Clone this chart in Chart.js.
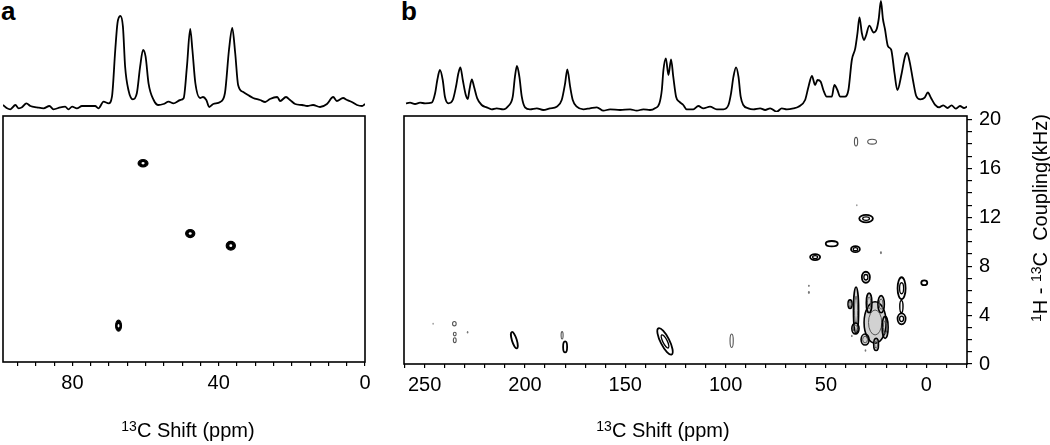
<!DOCTYPE html>
<html>
<head>
<meta charset="utf-8">
<script src="https://cdn.jsdelivr.net/npm/chart.js@4.4.1/dist/chart.umd.min.js"></script>
<style>
  html, body { margin:0; padding:0; background:#fff; }
  body { width:1050px; height:445px; position:relative; overflow:hidden;
         font-family:"Liberation Sans", Arial, Helvetica, sans-serif; color:#000; }
  canvas { position:absolute; }
  .plabel { position:absolute; font-weight:bold; font-size:26px; line-height:26px; }
  .title { position:absolute; font-size:20px; line-height:24px; text-align:center; white-space:nowrap; }
  .title sup { font-size:14px; vertical-align:6px; line-height:0; }
  .ytitle { position:absolute; font-size:20px; line-height:24px; white-space:nowrap;
            transform-origin:center center; }
  .ytitle sup { font-size:14px; vertical-align:6px; line-height:0; }
</style>
</head>
<body>
<div class="plabel" style="left:1px; top:-2px;">a</div>
<div class="plabel" style="left:401px; top:-2px;">b</div>
<canvas id="specA" width="362" height="112" style="left:3px; top:0px;"></canvas>
<canvas id="specB" width="563" height="112" style="left:404px; top:0px;"></canvas>
<canvas id="mapA" width="400" height="340" style="left:0px; top:105px;"></canvas>
<canvas id="mapB" width="650" height="340" style="left:400px; top:105px;"></canvas>
<div class="title" style="left:88px; width:200px; top:418px;"><sup>13</sup>C Shift (ppm)</div>
<div class="title" style="left:563px; width:200px; top:418px;"><sup>13</sup>C Shift (ppm)</div>
<div class="ytitle" id="yt" style="left:937px; top:207px; width:206px; text-align:center; transform:rotate(-90deg);"><sup>1</sup>H - <sup>13</sup>C&nbsp; Coupling(kHz)</div>
<script>
// ---------- 1D projection, panel a ----------
const aShiftPpm = [99.0,97.9,97.0,95.6,94.7,93.8,92.6,91.5,89.7,87.9,86.3,85.2,83.3,82.0,81.1,80.1,78.8,77.4,75.5,73.8,72.9,71.5,70.1,69.2,68.3,67.7,66.9,66.2,65.6,64.7,63.5,62.4,61.5,60.7,60.0,59.2,57.8,56.5,55.1,53.7,52.4,50.5,49.6,48.7,47.8,47.2,46.4,45.1,44.3,43.4,42.6,41.5,39.6,38.3,37.2,36.3,35.5,34.7,33.3,32.0,30.6,28.7,27.3,26.0,24.0,23.2,21.6,20.5,19.1,17.2,15.8,14.2,12.3,10.4,8.7,7.7,6.0,4.9,3.6,2.2,0.8,0.0];
const aIntensity = [3,-0.3,-1.3,3,-0.3,0.7,4.7,2,0.7,-0.3,2,-1.3,0.7,1.3,-1.3,1.3,-0.3,2,2,2,-0.3,6.3,4.7,11.3,58,84.7,92,81.3,41.3,18,8.7,14.7,41.3,58,51.3,24.7,8,3,4,6.3,4.7,8,9.7,41.3,79,58,25,10,11,8,1,4,6,15,58,80,55,23,16,13,10,8,6,9,11,7,11,8,4,3,2,3,1,4,11,7,10,8,6,3,2,4];

// ---------- 1D projection, panel b ----------
const bShiftPpm = [259.3,257.3,254.8,252.3,249.8,246.5,244.8,243.7,242.4,241.0,239.9,238.2,236.0,234.4,233.2,232.2,231.0,229.5,228.5,227.7,226.5,225.4,223.8,221.6,219.1,216.6,214.1,210.8,208.3,206.1,205.0,204.0,202.8,201.6,200.0,197.5,194.1,190.9,187.5,184.2,181.7,180.0,178.9,177.5,176.2,174.2,170.9,167.6,164.2,160.9,157.6,152.6,147.6,144.3,141.0,137.7,135.2,133.0,131.8,131.0,129.8,128.5,127.2,126.1,124.7,123.1,121.1,119.4,116.1,113.6,111.1,107.8,104.4,101.1,98.6,97.3,96.1,94.8,93.6,92.5,91.2,88.7,86.2,82.8,80.3,77.8,74.5,72.0,69.5,66.2,63.7,60.4,58.7,57.0,55.4,54.2,52.6,51.3,49.6,47.1,45.8,44.3,42.9,40.5,38.8,37.1,35.4,34.3,33.3,32.1,31.0,30.1,28.4,26.2,24.7,23.7,22.6,21.6,20.6,19.1,17.5,15.8,14.4,12.3,10.6,9.6,8.3,6.6,5.0,2.9,0.8,-0.8,-2.3,-4.3,-6.4,-8.5,-10.6,-12.6,-14.7,-16.8,-18.8,-20.3];
const bIntensity = [4.7,5.3,4,5.3,4.7,5.3,14.7,28,38,28,11.3,4.7,8,21.3,34.7,40.7,28,13,9,18,28.7,21.3,9.7,3,0.7,-1.3,-0.3,-1.3,2,11.3,31.3,42,31.3,11.3,0.7,-1.3,-0.3,-2,-0.3,1.3,8,24.7,38.7,21.3,8,1.3,-1.3,-0.3,0.7,-2.7,-1.3,-2,-1.3,-2.7,-1.3,-2,-0.3,4.7,18,38,49.7,33,48.7,31.3,11.3,6.3,3,-1.3,-1.3,2,-0.3,1.3,-1.3,-1.3,3,14.7,31.3,40.7,31.3,11.3,3,-0.3,-1.3,-0.3,-2,-0.3,-3.7,-0.3,-1.3,-0.3,1.3,8,21.3,32,23,28,26.3,18,11.3,11.3,23,18,11.3,11.3,18,48,59.7,74.7,90.7,74.7,68,72,82.4,75.5,79,89,107,89,79,61.8,58.4,34.3,17.9,34.3,51.5,55,46.4,27.5,12,8.6,10.3,15.5,10.3,3.4,0.7,2.7,0,2.7,-0.7,2,0,1.4];

// ---------- 2D contour peaks, panel a ----------
const aBlobPpm     = [60.7, 47.8, 36.7, 67.4];
const aBlobKHz     = [16.4, 10.6, 9.6, 3.0];
const aBlobHalfPpm = [1.35, 1.25, 1.25, 0.8];
const aBlobHalfKHz = [0.3, 0.33, 0.36, 0.45];

// ---------- 2D contour peaks, panel b ----------
const bBlobPpm     = [35.0,27.0,34.6,30.0,47.1,35.3,22.6,55.4,30.1,58.5,58.5,1.0,12.3,12.4,12.3,35.0,38.0,35.3,25.5,30.5,25.0,28.5,22.5,20.5,37.1,30.3,245.8,235.2,235.0,235.0,228.6,205.3,181.5,180.0,130.2,97.0];
const bBlobKHz     = [18.2,18.2,13.0,11.9,9.85,9.4,9.1,8.75,7.1,6.4,5.85,6.65,6.2,4.7,3.7,4.4,4.9,2.9,3.4,2.0,1.6,5.0,4.9,3.0,2.3,1.1,3.3,3.3,2.45,1.95,2.6,1.95,2.35,1.4,1.85,1.9];
const bBlobHalfPpm = [0.8,2.2,0.3,3.4,3.0,2.2,0.5,2.5,2.0,0.45,0.5,1.5,2.0,0.8,2.0,1.3,1.0,1.8,5.5,2.0,1.2,1.4,1.6,1.5,0.4,0.4,0.3,0.9,0.7,0.7,0.4,1.2,0.5,1.0,2.2,0.8];
const bBlobHalfKHz = [0.35,0.2,0.08,0.3,0.22,0.25,0.12,0.25,0.45,0.09,0.12,0.2,0.9,0.5,0.45,1.9,0.35,0.45,1.7,0.45,0.5,0.8,0.7,0.9,0.1,0.1,0.08,0.18,0.15,0.2,0.1,0.7,0.3,0.45,1.2,0.55];
const bBlobTilt    = [0,0,0,0,0,0,0,0,0,0,0,0,0,0,0,0,0,0,0,0,0,0,0,0,0,0,0,0,0,0,0,-17,0,0,-27,0];
const bBlobKind    = ['faint','faint','dot','double','double','double','dot','double','double','dot','dot','double','double','single','double','mass','mass','mass','mass','mass','mass','mass','mass','mass','dot','dot','dot','faint','faint','faint','dot','double','faint','double','double','faint'];

// tick label sets
const aShiftTicks = [80, 40, 0];
const bShiftTicks = [250, 200, 150, 100, 50, 0];
const bCouplingTicks = [0, 4, 8, 12, 16, 20];

Chart.defaults.font.family = '"Liberation Sans", Arial, Helvetica, sans-serif';
Chart.defaults.font.size = 20;
Chart.defaults.color = '#000';

function spectrum(id, ppm, inten, xmin, xmax) {
  new Chart(document.getElementById(id), {
    type: 'scatter',
    data: { datasets: [{ data: ppm.map((x, i) => ({ x, y: inten[i] })), showLine: true,
      borderColor: '#000', borderWidth: 1.8, pointRadius: 0, cubicInterpolationMode: 'monotone' }] },
    options: {
      responsive: false, animation: false, events: [], devicePixelRatio: 1,
      layout: { padding: 0 },
      plugins: { legend: { display: false }, tooltip: { enabled: false } },
      scales: {
        x: { type: 'linear', reverse: true, min: xmin, max: xmax, display: false },
        y: { type: 'linear', min: -4, max: 108, display: false }
      }
    }
  });
}
spectrum('specA', aShiftPpm, aIntensity, 0, 99);
spectrum('specB', bShiftPpm, bIntensity, -20.3, 260.3);

const framePlugin = {
  id: 'frame',
  afterDraw(chart) {
    const { ctx, chartArea: a } = chart;
    ctx.save(); ctx.strokeStyle = '#000'; ctx.lineWidth = 1.6;
    ctx.strokeRect(a.left, a.top, a.right - a.left, a.bottom - a.top);
    ctx.restore();
  }
};

const contourPlugin = {
  id: 'contours',
  afterDatasetsDraw(chart) {
    const { ctx, chartArea: a, scales } = chart;
    const xs = scales.x, ys = scales.y;
    ctx.save();
    ctx.beginPath(); ctx.rect(a.left, a.top, a.right - a.left, a.bottom - a.top); ctx.clip();
    const pts = chart.data.datasets[0].data.map(p => {
      const cx = xs.getPixelForValue(p.x), cy = ys.getPixelForValue(p.y);
      return { cx, cy,
        rx: Math.abs(xs.getPixelForValue(p.x + p.hx) - cx),
        ry: Math.abs(ys.getPixelForValue(p.y + p.hy) - cy),
        rot: (p.tilt || 0) * Math.PI / 180, kind: p.kind };
    });
    const ell = (p, k) => { ctx.beginPath(); ctx.ellipse(p.cx, p.cy, Math.max(p.rx * k, 0.5), Math.max(p.ry * k, 0.5), p.rot, 0, Math.PI * 2); };
    pts.filter(p => p.kind === 'mass').forEach(p => { ell(p, 1); ctx.fillStyle = '#d2d2d2'; ctx.fill(); });
    pts.filter(p => p.kind === 'mass').forEach(p => {
      ell(p, 1); ctx.strokeStyle = '#000'; ctx.lineWidth = 1.6; ctx.stroke();
      ell(p, 0.6); ctx.strokeStyle = '#555'; ctx.lineWidth = 1; ctx.stroke();
    });
    pts.forEach(p => {
      if (p.kind === 'solid') {
        ell(p, 1); ctx.fillStyle = '#000'; ctx.fill();
        ctx.strokeStyle = '#000'; ctx.lineWidth = 1.2; ctx.stroke();
        ell(p, 0.32); ctx.fillStyle = '#fff'; ctx.fill();
      } else if (p.kind === 'double') {
        ell(p, 1); ctx.strokeStyle = '#000'; ctx.lineWidth = 1.8; ctx.stroke();
        if (p.rx > 3 && p.ry > 3) { ell(p, 0.5); ctx.lineWidth = 1.3; ctx.stroke(); }
      } else if (p.kind === 'single') {
        ell(p, 1); ctx.strokeStyle = '#000'; ctx.lineWidth = 1.4; ctx.stroke();
      } else if (p.kind === 'faint') {
        ell(p, 1); ctx.strokeStyle = '#555'; ctx.lineWidth = 1.1; ctx.stroke();
      } else if (p.kind === 'dot') {
        ell(p, 1); ctx.fillStyle = '#777'; ctx.fill();
      }
    });
    ctx.restore();
  }
};

function stepTicks(min, max, step) {
  const out = [];
  for (let v = Math.ceil(min / step - 1e-9) * step; v <= max + 1e-9; v += step) out.push({ value: Math.round(v * 1e6) / 1e6 });
  return out;
}
function zeroPad(s) { s.paddingTop = 0; s.paddingBottom = 0; s.paddingLeft = 0; s.paddingRight = 0; }

function map2d(id, pts, xmin, xmax, xstep, xLabels, opts) {
  const scales = {
    x: {
      type: 'linear', reverse: true, min: xmin, max: xmax, position: 'bottom',
      afterBuildTicks: s => { s.ticks = stepTicks(xmin, xmax, xstep); },
      afterFit: s => { s.height = opts.xAxisHeight; zeroPad(s); },
      border: { display: false },
      grid: { drawOnChartArea: false, drawTicks: true, tickLength: 4, color: '#000', lineWidth: 1.2 },
      ticks: { autoSkip: false, maxRotation: 0, padding: 5, color: '#000', font: { size: 20 },
               callback: v => xLabels.includes(v) ? String(v) : '' }
    },
    y: opts.yAxis
  };
  new Chart(document.getElementById(id), {
    type: 'scatter',
    data: { datasets: [{ data: pts, pointRadius: 0, showLine: false }] },
    options: {
      responsive: false, animation: false, events: [], devicePixelRatio: 1,
      layout: { padding: opts.padding },
      plugins: { legend: { display: false }, tooltip: { enabled: false } },
      scales
    },
    plugins: [contourPlugin, framePlugin]
  });
}

const aPts = aBlobPpm.map((x, i) => ({ x, y: aBlobKHz[i], hx: aBlobHalfPpm[i], hy: aBlobHalfKHz[i], tilt: 0, kind: 'solid' }));
const bPts = bBlobPpm.map((x, i) => ({ x, y: bBlobKHz[i], hx: bBlobHalfPpm[i], hy: bBlobHalfKHz[i], tilt: bBlobTilt[i], kind: bBlobKind[i] }));

map2d('mapA', aPts, 0, 99, 5, aShiftTicks, {
  padding: { left: 3, right: 35, top: 11, bottom: 0 },
  xAxisHeight: 83,
  yAxis: { type: 'linear', min: 0, max: 20.3, display: false }
});

map2d('mapB', bPts, -20.3, 260.3, 10, bShiftTicks, {
  padding: { left: 4, right: 0, top: 11, bottom: 0 },
  xAxisHeight: 81,
  yAxis: {
    type: 'linear', min: 0, max: 20.3, position: 'right',
    afterBuildTicks: s => { s.ticks = stepTicks(0, 20.3, 1); },
    afterFit: s => { s.width = 83; zeroPad(s); },
    border: { display: false },
    grid: { drawOnChartArea: false, drawTicks: true, tickLength: 5, color: '#000', lineWidth: 1.2 },
    ticks: { autoSkip: false, padding: 7, color: '#000', font: { size: 20 },
             callback: v => bCouplingTicks.includes(v) ? String(v) : '' }
  }
});
</script>
</body>
</html>
